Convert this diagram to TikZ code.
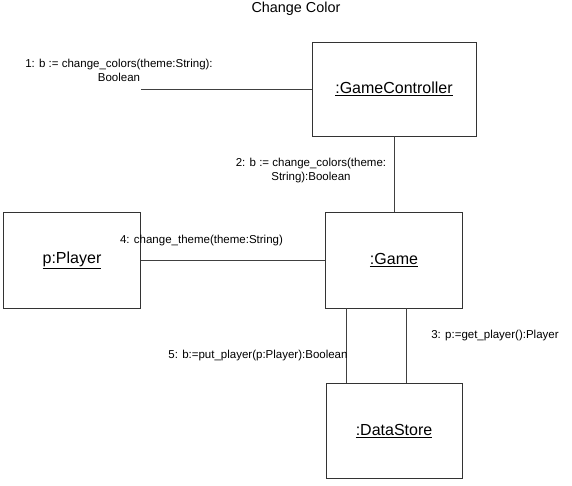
\documentclass[tikz,border=0pt]{standalone}
\usepackage{fontspec}
\setmainfont{Liberation Sans}
\usepackage{tikz}
\usetikzlibrary{positioning}

\begin{document}
\begin{tikzpicture}[x=1pt,y=-1pt,
  obj/.style={draw=black!80,line width=0.8pt,fill=white,inner sep=0pt,
    font=\fontsize{16}{18}\selectfont},
  link/.style={draw=black!75,line width=0.8pt},
  msg/.style={inner sep=0pt,align=center,font=\fontsize{11.5}{14}\selectfont}]
\useasboundingbox (0,0) rectangle (572,485);
% title
\node[inner sep=0pt,font=\fontsize{14.4}{16}\selectfont] (title) at (296,8.5) {Change Color};
% objects
\node[obj,minimum width=164pt,minimum height=94pt] (ctrl) at (394,89) {\underline{:GameController}};
\node[obj,minimum width=137pt,minimum height=96pt] (game) at (394,260) {\underline{:Game}};
\node[obj,minimum width=137pt,minimum height=96pt] (player) at (72,260) {\underline{p:Player}};
\node[obj,minimum width=136pt,minimum height=95pt] (store) at (394,431) {\underline{:DataStore}};
% links
\coordinate (actor) at (141,89);
\draw[link] (actor) -- (ctrl.west);
\draw[link] (ctrl.south) -- (game.north);
\draw[link] (player.east) -- (game.west);
\draw[link] ([xshift=-48pt]game.south) -- ([xshift=-48pt]store.north);
\draw[link] ([xshift=12pt]game.south) -- ([xshift=12pt]store.north);
% messages
\node[msg] (m1) at (119,70) {1: b := change\_colors(theme:String):\\Boolean};
\node[msg] (m2) at (311,171) {2: b := change\_colors(theme:\\String):Boolean};
\node[msg] (m3) at (495,335.5) {3: p:=get\_player():Player};
\node[msg] (m4) at (201.5,240.5) {4: change\_theme(theme:String)};
\node[msg] (m5) at (258,356) {5: b:=put\_player(p:Player):Boolean};
\end{tikzpicture}
\end{document}
